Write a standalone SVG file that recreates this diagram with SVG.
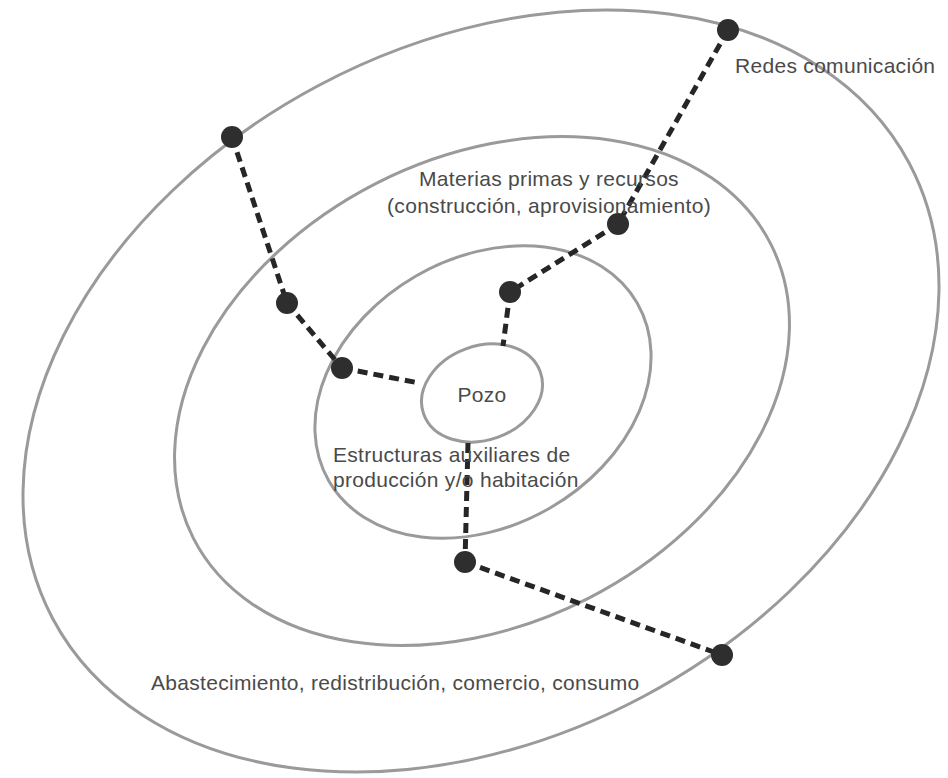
<svg xmlns="http://www.w3.org/2000/svg" width="948" height="778" viewBox="0 0 948 778">
<style>
.ring{fill:none;stroke:#9a9a9a;stroke-width:3}
.dash{fill:none;stroke:#262626;stroke-width:5;stroke-dasharray:10 6}
.node{fill:#2e2e2e}
.lbl{font-family:"Liberation Sans",Arial,sans-serif;font-size:21px;fill:#4a4a4a;letter-spacing:0.3px}
</style>
<rect width="948" height="778" fill="#ffffff"/>
<g id="ring-outer"><ellipse class="ring" cx="481" cy="391" rx="485" ry="346" transform="rotate(-28 481 391)"/></g>
<g id="ring-2"><ellipse class="ring" cx="482" cy="391" rx="324" ry="233" transform="rotate(-27 482 391)"/></g>
<g id="ring-3"><ellipse class="ring" cx="483" cy="392" rx="178" ry="134" transform="rotate(-30 483 392)"/></g>
<g id="pozo"><ellipse class="ring" cx="482" cy="393" rx="62" ry="47" transform="rotate(-20 482 393)"/>
<text class="lbl" x="482" y="402" text-anchor="middle">Pozo</text></g>
<g id="connectors">
<line class="dash" x1="728" y1="30" x2="618" y2="224"/>
<line class="dash" x1="618" y1="224" x2="510" y2="292"/>
<line class="dash" x1="510" y1="292" x2="503" y2="346"/>
<line class="dash" x1="232" y1="137" x2="287" y2="303"/>
<line class="dash" x1="287" y1="303" x2="342" y2="368"/>
<line class="dash" x1="342" y1="368" x2="419" y2="383"/>
<line class="dash" x1="468" y1="443" x2="465" y2="562"/>
<line class="dash" x1="465" y1="562" x2="722" y2="655"/>
</g>
<g id="nodes">
<circle id="n1" class="node" cx="728" cy="30" r="11"/>
<circle id="n2" class="node" cx="618" cy="224" r="11"/>
<circle id="n3" class="node" cx="510" cy="292" r="11"/>
<circle id="n4" class="node" cx="232" cy="137" r="11"/>
<circle id="n5" class="node" cx="287" cy="303" r="11"/>
<circle id="n6" class="node" cx="342" cy="368" r="11"/>
<circle id="n7" class="node" cx="465" cy="562" r="11"/>
<circle id="n8" class="node" cx="722" cy="655" r="11"/>
</g>
<g id="labels">
<text class="lbl" x="735" y="73">Redes comunicación</text>
<text class="lbl" x="549" y="186" text-anchor="middle">Materias primas y recursos</text>
<text class="lbl" x="549" y="213" text-anchor="middle">(construcción, aprovisionamiento)</text>
<text class="lbl" x="333" y="462">Estructuras auxiliares de</text>
<text class="lbl" x="333" y="487">producción y/o habitación</text>
<text class="lbl" x="151" y="690">Abastecimiento, redistribución, comercio, consumo</text>
</g>
</svg>
